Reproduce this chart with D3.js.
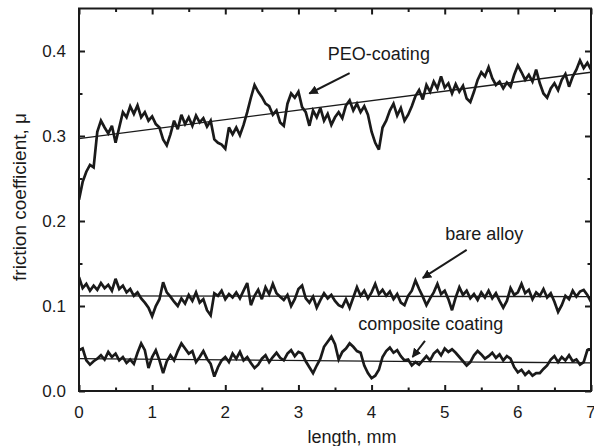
<!DOCTYPE html>
<html><head><meta charset="utf-8">
<script src="https://cdn.jsdelivr.net/npm/d3@7/dist/d3.min.js"></script>
<style>
html,body{margin:0;padding:0;background:#fff;}
svg text{font-family:"Liberation Sans",Arial,sans-serif;fill:#1a1a1a;}
</style></head>
<body>
<svg id="chart" width="594" height="446"></svg>
<script>
// sampling step along length (mm)
const lengthStep = 0.05;
const xTicks = [0,1,2,3,4,5,6,7];
const yTicks = [0.0,0.1,0.2,0.3,0.4];

const peoCoating = [
.225,.246,.258,.266,.263,.305,.318,.310,.303,.312,
.292,.310,.328,.322,.335,.326,.336,.322,.328,.318,
.323,.314,.310,.296,.289,.302,.318,.308,.325,.314,
.322,.312,.324,.316,.321,.311,.318,.296,.292,.290,
.285,.310,.302,.310,.301,.313,.328,.345,.360,.352,
.346,.338,.335,.325,.330,.316,.312,.338,.350,.345,
.352,.334,.328,.312,.330,.322,.333,.318,.326,.313,
.322,.328,.321,.336,.342,.330,.338,.328,.335,.325,
.305,.292,.284,.310,.318,.330,.338,.324,.333,.318,
.325,.335,.347,.354,.343,.360,.352,.364,.356,.370,
.357,.362,.350,.361,.352,.359,.344,.340,.352,.366,
.375,.370,.381,.368,.360,.364,.356,.363,.358,.372,
.383,.375,.366,.372,.364,.378,.362,.350,.345,.356,
.362,.354,.366,.373,.358,.370,.378,.389,.380,.386,
.378];

const bareAlloy = [
.134,.121,.126,.118,.124,.119,.127,.121,.125,.118,
.132,.120,.124,.116,.120,.112,.116,.109,.104,.098,
.088,.100,.108,.128,.116,.111,.105,.100,.109,.103,
.113,.106,.116,.104,.108,.095,.089,.115,.112,.118,
.108,.114,.110,.116,.109,.118,.127,.101,.112,.119,
.108,.122,.114,.126,.115,.111,.107,.113,.100,.108,
.120,.124,.109,.104,.111,.098,.107,.115,.109,.113,
.106,.101,.099,.108,.098,.110,.122,.112,.118,.109,
.116,.126,.114,.119,.112,.117,.108,.114,.104,.101,
.112,.118,.130,.120,.111,.101,.109,.116,.126,.114,
.118,.108,.095,.110,.122,.113,.118,.109,.114,.107,
.116,.110,.118,.109,.115,.106,.098,.106,.121,.113,
.116,.126,.115,.119,.108,.116,.112,.120,.110,.115,
.105,.093,.101,.112,.108,.118,.111,.117,.119,.113,
.105];

const compositeCoating = [
.048,.050,.036,.031,.035,.038,.042,.037,.046,.040,
.044,.036,.040,.033,.037,.032,.045,.056,.048,.027,
.040,.048,.036,.021,.035,.042,.036,.047,.056,.050,
.044,.047,.034,.040,.047,.038,.032,.017,.028,.036,
.040,.034,.044,.038,.046,.036,.040,.033,.027,.031,
.038,.042,.034,.040,.045,.039,.036,.044,.048,.041,
.046,.044,.035,.028,.021,.030,.038,.052,.058,.064,
.055,.037,.046,.050,.056,.052,.047,.045,.030,.021,
.015,.018,.025,.040,.047,.051,.045,.048,.041,.036,
.037,.030,.034,.031,.036,.041,.036,.044,.048,.042,
.050,.046,.049,.045,.040,.035,.030,.034,.042,.047,
.043,.038,.041,.045,.039,.043,.036,.041,.038,.028,
.022,.025,.019,.023,.018,.021,.021,.026,.030,.037,
.041,.034,.040,.036,.042,.035,.037,.031,.034,.048,
.049];

// linear fits: [length, mu] end points
const peoFit = [[0,0.297],[7,0.375]];
const bareFit = [[0,0.112],[7,0.111]];
const compositeFit = [[0,0.038],[7,0.033]];

const labels = [
  {text:"PEO-coating", x:4.10, y:0.390, from:[3.7,0.374], to:[3.15,0.350]},
  {text:"bare alloy", x:5.54, y:0.178, from:[5.3,0.166], to:[4.7,0.133]},
  {text:"composite coating", x:4.81, y:0.072, from:[4.73,0.059], to:[4.56,0.040]}
];

const svg = d3.select("#chart");
const m = {l:79, r:591, t:8.5, b:391};
const x = d3.scaleLinear().domain([0,7]).range([m.l,m.r]);
const y = d3.scaleLinear().domain([0,0.45]).range([m.b,m.t]);
const ink = "#1a1a1a";

svg.append("defs").append("clipPath").attr("id","clip")
  .append("rect").attr("x",m.l).attr("y",m.t).attr("width",m.r-m.l).attr("height",m.b-m.t);
svg.select("defs").append("marker").attr("id","arr")
  .attr("viewBox","0 0 10 10").attr("refX",9).attr("refY",5)
  .attr("markerWidth",4.6).attr("markerHeight",4.6).attr("orient","auto")
  .append("path").attr("d","M0,0 L10,5 L0,10 z").attr("fill",ink);

const line = d3.line().x(d=>x(d[0])).y(d=>y(d[1]));
const toPts = arr => arr.map((v,i)=>[i*lengthStep, v]);

const g = svg.append("g").attr("clip-path","url(#clip)");
[peoCoating, bareAlloy, compositeCoating].forEach(s=>{
  g.append("path").datum(toPts(s)).attr("d",line)
   .attr("fill","none").attr("stroke",ink).attr("stroke-width",2.7)
   .attr("stroke-linejoin","miter").attr("stroke-miterlimit",3);
});
[peoFit, bareFit, compositeFit].forEach(f=>{
  g.append("path").datum(f).attr("d",line)
   .attr("fill","none").attr("stroke",ink).attr("stroke-width",1.3);
});

// axes with inward ticks on all sides
const xMinor = d3.range(0.5,7,1);
const yMinor = d3.range(0.05,0.45,0.1);
function ticks(axisGen, tv, size){
  return axisGen.tickValues(tv).tickSize(size).tickFormat("");
}
const axes = svg.append("g");
axes.append("g").attr("transform",`translate(0,${m.b})`).call(ticks(d3.axisTop(x),xTicks,6));
axes.append("g").attr("transform",`translate(0,${m.b})`).call(ticks(d3.axisTop(x),xMinor,3.5));
axes.append("g").attr("transform",`translate(0,${m.t})`).call(ticks(d3.axisBottom(x),xTicks,6));
axes.append("g").attr("transform",`translate(0,${m.t})`).call(ticks(d3.axisBottom(x),xMinor,3.5));
axes.append("g").attr("transform",`translate(${m.l},0)`).call(ticks(d3.axisRight(y),yTicks,6));
axes.append("g").attr("transform",`translate(${m.l},0)`).call(ticks(d3.axisRight(y),yMinor,3.5));
axes.append("g").attr("transform",`translate(${m.r},0)`).call(ticks(d3.axisLeft(y),yTicks,6));
axes.append("g").attr("transform",`translate(${m.r},0)`).call(ticks(d3.axisLeft(y),yMinor,3.5));
axes.selectAll(".domain").remove();
axes.selectAll(".tick line").attr("stroke",ink).attr("stroke-width",2);

svg.append("rect").attr("x",m.l).attr("y",m.t).attr("width",m.r-m.l).attr("height",m.b-m.t)
  .attr("fill","none").attr("stroke",ink).attr("stroke-width",2);

// tick labels
svg.selectAll(".xl").data(xTicks).enter().append("text")
  .attr("x",d=>x(d)).attr("y",m.b+27).attr("text-anchor","middle")
  .attr("font-size",17).text(d=>d);
svg.selectAll(".yl").data(yTicks).enter().append("text")
  .attr("x",m.l-13).attr("y",d=>y(d)+6).attr("text-anchor","end")
  .attr("font-size",17).text(d=>d3.format(".1f")(d));

svg.append("text").attr("x",352).attr("y",443).attr("text-anchor","middle")
  .attr("font-size",18).text("length, mm");
svg.append("text").attr("transform",`translate(26,197) rotate(-90)`)
  .attr("text-anchor","middle").attr("font-size",19).text("friction coefficient, μ");

labels.forEach(l=>{
  svg.append("text").attr("x",x(l.x)).attr("y",y(l.y)).attr("text-anchor","middle")
    .attr("font-size",18).text(l.text);
  svg.append("line").attr("x1",x(l.from[0])).attr("y1",y(l.from[1]))
    .attr("x2",x(l.to[0])).attr("y2",y(l.to[1]))
    .attr("stroke",ink).attr("stroke-width",2).attr("marker-end","url(#arr)");
});
</script>
</body></html>
